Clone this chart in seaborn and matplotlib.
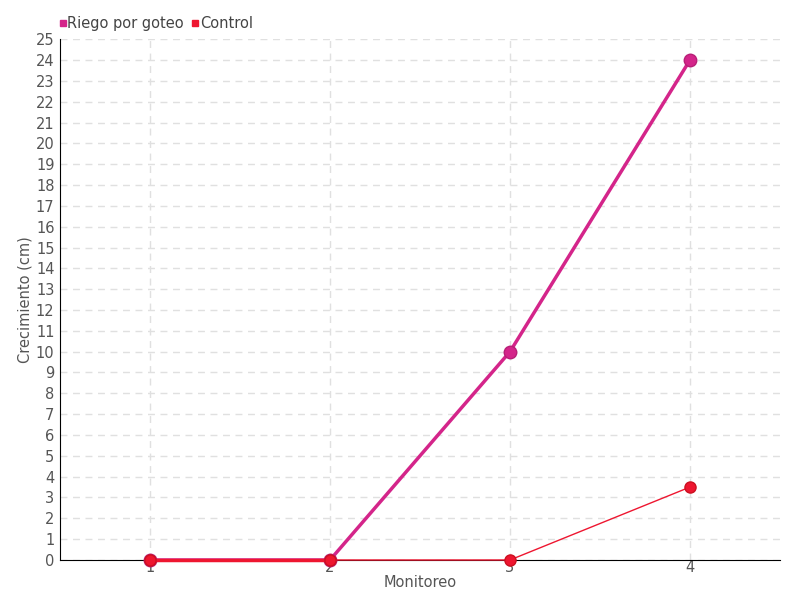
import matplotlib
matplotlib.use("Agg")
import matplotlib.pyplot as plt
import seaborn as sns
import pandas as pd

monitoreo = [1, 2, 3, 4]
riego = [0, 0, 10, 24]
control = [0, 0, 0, 3.5]
series_names = ["Riego por goteo", "Control"]
colors = ["#d4258a", "#ee1630"]

sns.set_style("white")
plt.rcParams['font.family'] = ['DejaVu Sans']

fig = plt.figure(figsize=(8, 6), dpi=100)
ax = fig.add_axes([0.075, 0.0667, 0.9, 0.868])

df_r = pd.DataFrame({"x": monitoreo, "y": riego})
df_c = pd.DataFrame({"x": monitoreo, "y": control})
sns.lineplot(data=df_r, x="x", y="y", ax=ax, color=colors[0], lw=2.5, marker="o",
             markersize=9, markeredgecolor="#b81f77", markeredgewidth=1, zorder=3)
sns.lineplot(data=df_c, x="x", y="y", ax=ax, color=colors[1], lw=1, marker="o",
             markersize=8, markeredgecolor="#cc1020", markeredgewidth=1, zorder=4)
# thicker control segment where both series overlap
ax.plot(monitoreo[:2], control[:2], color=colors[1], lw=2.5, zorder=3.5)
for ln in ax.lines:
    ln.set_clip_on(False)

ax.set_xlim(0.5, 4.5)
ax.set_ylim(0, 25)
ax.set_xticks(monitoreo)
ax.set_yticks(range(0, 26))
ax.tick_params(axis="both", labelsize=10.5, colors="#555555")
ax.tick_params(axis="y", direction="inout", length=6, color="black", pad=1)
ax.tick_params(axis="x", direction="inout", length=6, color="black", pad=-3)
ax.grid(True, color="#e0e0e0", linestyle=(0, (5, 4)), lw=1)
for s in ["top", "right"]:
    ax.spines[s].set_visible(False)
ax.spines["left"].set_color("black")
ax.spines["bottom"].set_color("black")
ax.spines["bottom"].set_zorder(2)
ax.set_xlabel("Monitoreo", fontsize=10.5, color="#555555", labelpad=0)
ax.set_ylabel("Crecimiento (cm)", fontsize=10.5, color="#555555", labelpad=2)

from matplotlib.lines import Line2D
handles = [Line2D([], [], marker="s", linestyle="", color=c, markersize=4.5) for c in colors]
fig.legend(handles, series_names, loc="upper left", bbox_to_anchor=(0.053, 0.995),
           ncol=2, frameon=False, fontsize=10.5, handletextpad=-0.2, columnspacing=0.3,
           handlelength=1.0, labelcolor="#444444")

fig.savefig("out.png", dpi=100)
